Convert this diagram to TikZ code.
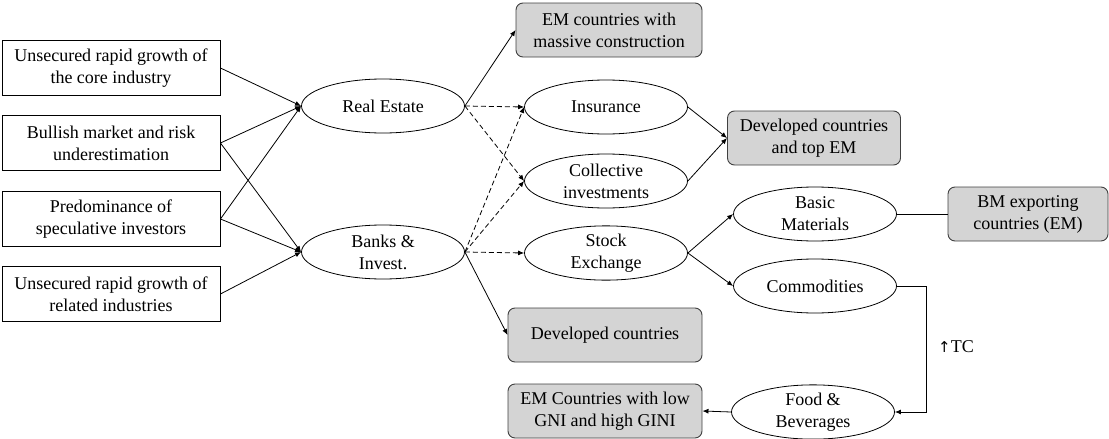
\documentclass[tikz,border=0pt]{standalone}
\usepackage{fontspec}
\setmainfont{Liberation Serif}
\newfontfamily\symfont{DejaVu Sans}
\usetikzlibrary{shapes.geometric,arrows.meta}
\begin{document}
\begin{tikzpicture}[x=1pt,y=-1pt,
  every node/.style={font=\fontsize{18}{22}\selectfont, align=center, inner sep=0pt},
  srcbox/.style={draw, line width=0.9pt, minimum width=218pt, minimum height=55pt},
  oval/.style={ellipse, draw, line width=0.8pt, minimum width=163pt, minimum height=54pt},
  outbox/.style={draw=black!75, fill=black!17, rounded corners=7pt, line width=0.9pt, minimum height=54pt},
  arr/.style={-{Latex[length=6pt,width=5pt]}, line width=0.8pt},
  darr/.style={arr, dashed, dash pattern=on 5pt off 3pt}
]
\useasboundingbox (0,0) rectangle (1109,439);
% source boxes
\node[srcbox] (s1) at (111,68) {Unsecured rapid growth of\\the core industry};
\node[srcbox] (s2) at (111,143) {Bullish market and risk\\underestimation};
\node[srcbox] (s3) at (111,219) {Predominance of\\speculative investors};
\node[srcbox] (s4) at (111,294) {Unsecured rapid growth of\\related industries};
% ovals
\node[oval] (re) at (383,106) {Real Estate};
\node[oval] (bk) at (383,252) {Banks \&\\Invest.};
\node[oval] (ins) at (606,107) {Insurance};
\node[oval] (col) at (606,181) {Collective\\investments};
\node[oval] (se) at (606,253) {Stock\\Exchange};
\node[oval] (bm) at (815,214) {Basic\\Materials};
\node[oval] (cm) at (815,286) {Commodities};
\node[oval] (fb) at (813,412) {Food \&\\Beverages};
% outcome boxes
\node[outbox, minimum width=186pt] (emc) at (609,30) {EM countries with\\massive construction};
\node[outbox, minimum width=173pt] (dte) at (814,138) {Developed countries\\and top EM};
\node[outbox, minimum width=160pt] (bme) at (1028,214) {BM exporting\\countries (EM)};
\node[outbox, minimum width=194pt] (dev) at (605,335) {Developed countries};
\node[outbox, minimum width=194pt] (emg) at (605,411) {EM Countries with low\\GNI and high GINI};
% causes
\draw[arr] (s1.east) -- (re.west);
\draw[arr] (s2.east) -- (re.west);
\draw[arr] (s3.east) -- (re.west);
\draw[arr] (s2.east) -- (bk.west);
\draw[arr] (s3.east) -- (bk.west);
\draw[arr] (s4.east) -- (bk.west);
% real estate / banks outputs
\draw[arr] (re.east) -- (emc.west);
\draw[darr] (re.east) -- (ins.west);
\draw[darr] (re.east) -- (col.west);
\draw[darr] (bk.east) -- (ins.west);
\draw[darr] (bk.east) -- (col.west);
\draw[darr] (bk.east) -- (se.west);
\draw[arr] (bk.east) -- (dev.west);
% financial sector
\draw[arr] (ins.east) -- (dte.west);
\draw[arr] (col.east) -- (dte.west);
\draw[arr] (se.east) -- (bm.west);
\draw[arr] (se.east) -- (cm.west);
\draw[line width=0.8pt] (bm.east) -- (bme.west);
\draw[arr] (cm.east) -- ++(29,0) coordinate (elb) |- (fb.east);
\node[anchor=west] (tc) at (938,347) {{\symfont\fontsize{15}{20}\selectfont ↑}TC};
\draw[arr] (fb.west) -- (emg.east);
\end{tikzpicture}
\end{document}
